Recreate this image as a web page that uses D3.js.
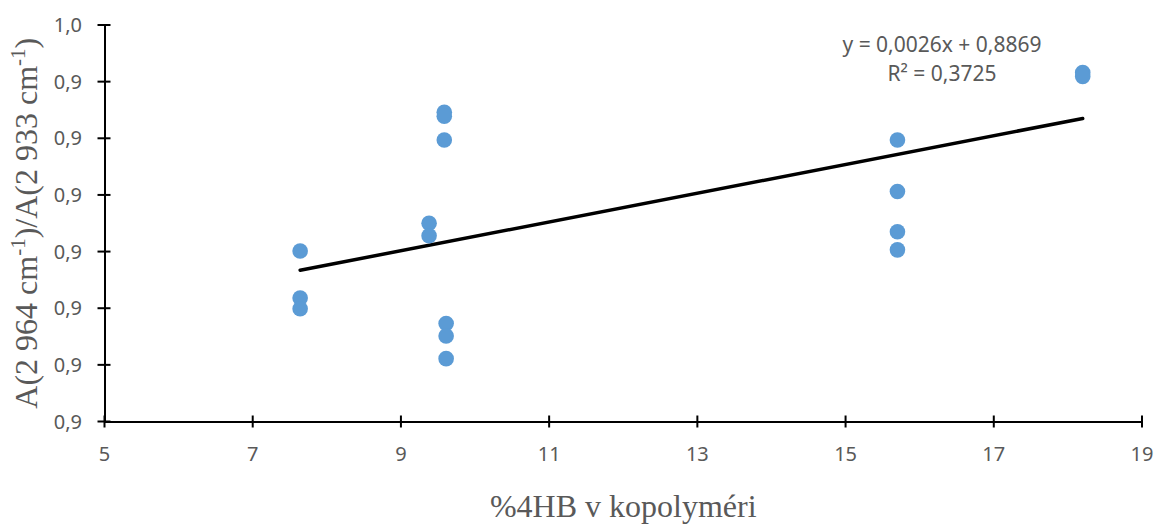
<!DOCTYPE html>
<html>
<head>
<meta charset="utf-8">
<script src="https://cdn.jsdelivr.net/npm/d3@7"></script>
<style>
  body { margin: 0; background: #fff; }
  .ticklabel { font-family: "Noto Sans", "Open Sans", sans-serif; font-size: 20px; fill: #595959; }
  .axistitle { font-family: "Liberation Serif", "Times New Roman", serif; font-size: 32px; fill: #595959; }
  .eq { font-family: "Noto Sans", "Open Sans", sans-serif; font-size: 21px; fill: #595959; }
</style>
</head>
<body>
<svg id="chart" width="1154" height="524"></svg>
<script>
// measured points: % 4HB vs absorbance ratio
var xvals = [7.64, 7.64, 7.64, 9.585, 9.585, 9.585, 9.38, 9.38, 9.61, 9.61, 9.61, 15.70, 15.70, 15.70, 15.70, 18.20, 18.20];
var yvals = [0.9101, 0.9018, 0.8999, 0.9346, 0.9339, 0.9297, 0.9150, 0.9128, 0.8973, 0.8951, 0.8911, 0.9297, 0.9206, 0.9135, 0.9103, 0.9416, 0.9409];

var xticks = [5, 7, 9, 11, 13, 15, 17, 19];
var yticks = [0.88, 0.89, 0.90, 0.91, 0.92, 0.93, 0.94, 0.95];

// linear trend as drawn (endpoints at the data extent)
var trendX = [7.64, 18.20];
var trendY = [0.9067, 0.9335];
var eqLines = ["y = 0,0026x + 0,8869", "R² = 0,3725"];

var svg = d3.select("#chart");

var x = d3.scaleLinear().domain([5, 19]).range([104.5, 1142]);
var y = d3.scaleLinear().domain([0.88, 0.95]).range([421.5, 25]);

fmt = function(v) {
    // one decimal, comma separator (like the original 0,9 / 1,0 labels)
    return (Math.round(v * 10 + 1e-9) / 10).toFixed(1).replace(".", ",");
}

// axes
var xaxis = svg.append("g")
    .attr("transform", "translate(0," + y(0.88) + ")")
    .call(d3.axisBottom(x).tickValues(xticks).tickSize(0).tickFormat(d3.format("d")));
xaxis.select(".domain").attr("stroke", "#000").attr("stroke-width", 2);
xaxis.selectAll(".tick text").remove();

var yaxis = svg.append("g")
    .attr("transform", "translate(" + x(5) + ",0)")
    .call(d3.axisLeft(y).tickValues(yticks).tickSize(0));
yaxis.select(".domain").attr("stroke", "#000").attr("stroke-width", 2);
yaxis.selectAll(".tick text").remove();

// cross ticks
svg.selectAll(".xtick").data(xticks).enter()
    .append("line")
    .attr("x1", function(d) { return x(d); })
    .attr("x2", function(d) { return x(d); })
    .attr("y1", y(0.88) - 6)
    .attr("y2", y(0.88) + 6)
    .attr("stroke", "#000")
    .attr("stroke-width", 2);

svg.selectAll(".ytick").data(yticks).enter()
    .append("line")
    .attr("x1", x(5) - 7)
    .attr("x2", x(5) + 6)
    .attr("y1", function(d) { return y(d); })
    .attr("y2", function(d) { return y(d); })
    .attr("stroke", "#000")
    .attr("stroke-width", 2);

svg.selectAll(".xlab").data(xticks).enter()
    .append("text")
    .attr("class", "ticklabel")
    .attr("x", function(d) { return x(d); })
    .attr("y", y(0.88) + 39)
    .attr("text-anchor", "middle")
    .text(function(d) { return d; });

svg.selectAll(".ylab").data(yticks).enter()
    .append("text")
    .attr("class", "ticklabel")
    .attr("x", 82)
    .attr("y", function(d) { return y(d) + 7; })
    .attr("text-anchor", "end")
    .text(fmt);

// trendline
svg.append("line")
    .attr("x1", x(trendX[0]))
    .attr("y1", y(trendY[0]))
    .attr("x2", x(trendX[1]))
    .attr("y2", y(trendY[1]))
    .attr("stroke", "#000")
    .attr("stroke-width", 3.5)
    .attr("stroke-linecap", "round");

// points
svg.selectAll(".pt").data(d3.range(xvals.length)).enter()
    .append("circle")
    .attr("cx", function(i) { return x(xvals[i]); })
    .attr("cy", function(i) { return y(yvals[i]); })
    .attr("r", 7.8)
    .attr("fill", "#5B9BD5");

// equation
svg.selectAll(".eq").data(eqLines).enter()
    .append("text")
    .attr("class", "eq")
    .attr("x", 942)
    .attr("y", function(d, i) { return 52 + i * 29; })
    .attr("text-anchor", "middle")
    .text(function(d) { return d; });

// axis titles
svg.append("text")
    .attr("class", "axistitle")
    .attr("x", (x(5) + x(19)) / 2)
    .attr("y", 517)
    .attr("text-anchor", "middle")
    .text("%4HB v kopolyméri");

var yt = svg.append("text")
    .attr("class", "axistitle")
    .attr("text-anchor", "middle")
    .attr("transform", "translate(37," + (y(0.88) + y(0.95)) / 2 + ") rotate(-90)");
yt.append("tspan").text("A(2 964 cm");
yt.append("tspan").attr("font-size", "21px").attr("dy", -12).text("-1");
yt.append("tspan").attr("dy", 12).text(")/A(2 933 cm");
yt.append("tspan").attr("font-size", "21px").attr("dy", -12).text("-1");
yt.append("tspan").attr("dy", 12).text(")");
</script>
</body>
</html>
